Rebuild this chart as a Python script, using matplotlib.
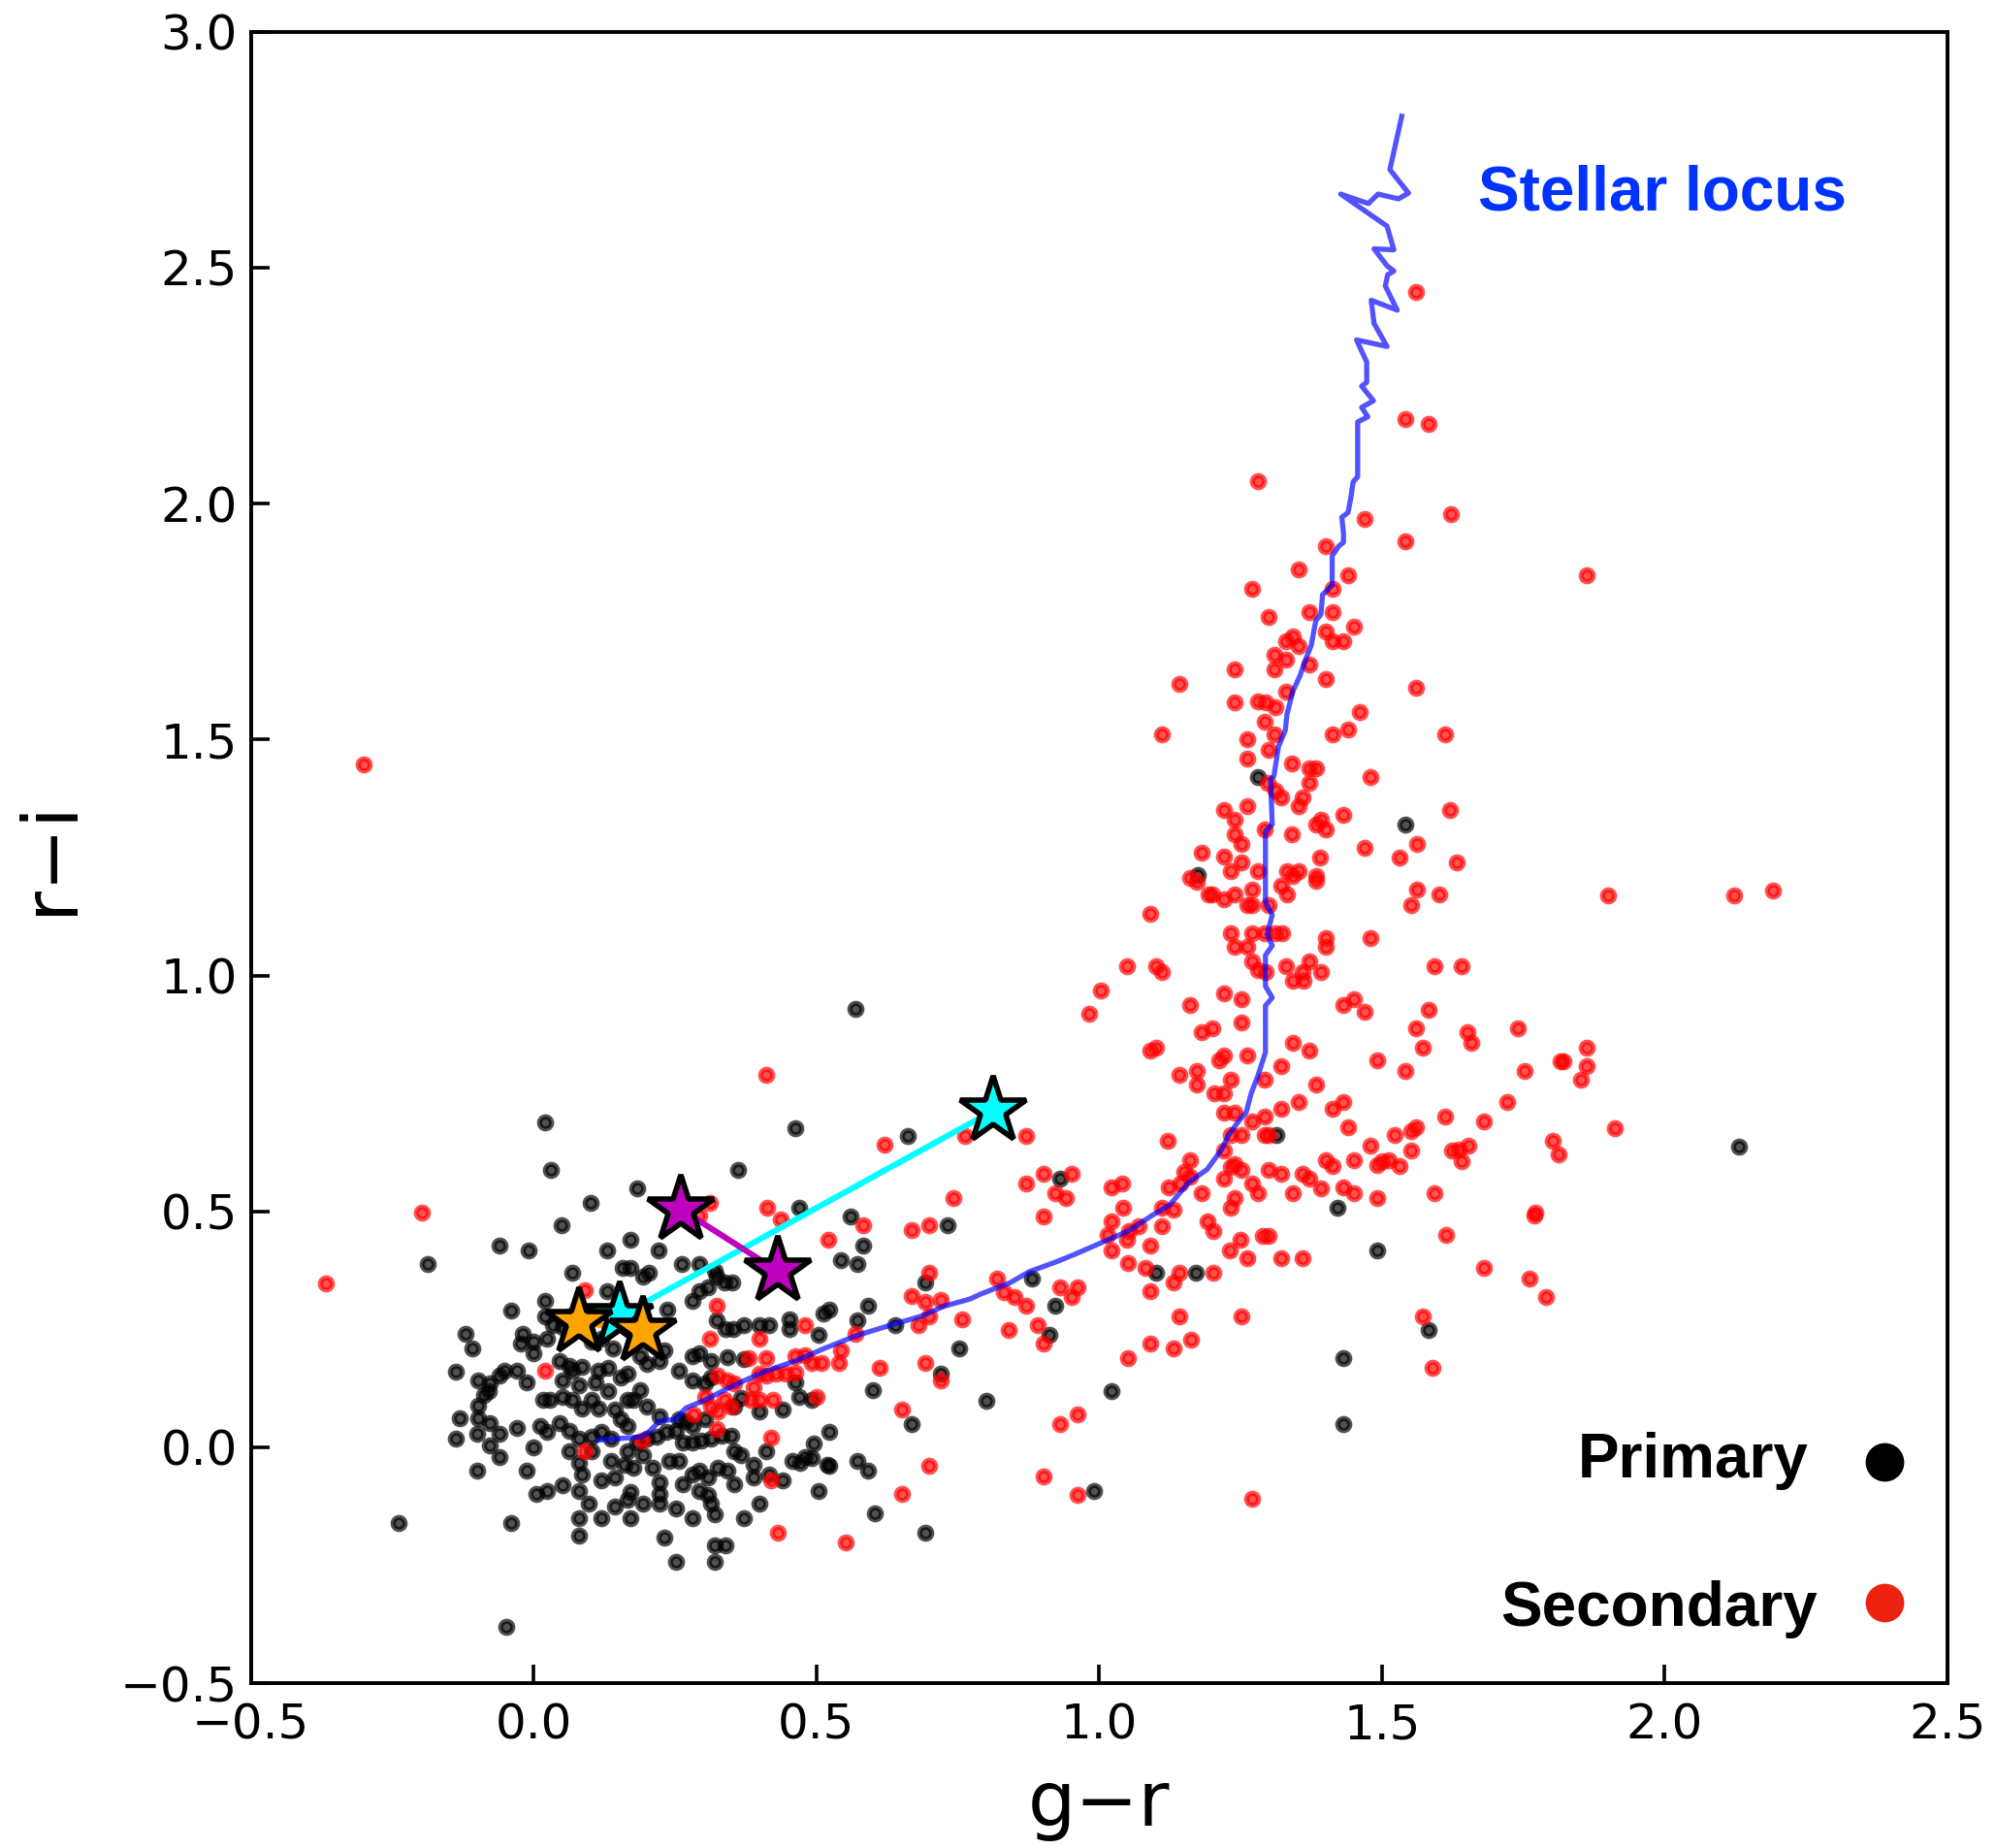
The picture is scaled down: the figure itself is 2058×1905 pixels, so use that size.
import numpy as np
import matplotlib
matplotlib.use("Agg")
import matplotlib.pyplot as plt

# ---------------- data: (g-r, r-i) colours ----------------
# primary components, dense blue clump
primary_core = [
    (0.020,0.688),(0.462,0.677),(0.031,0.587),(0.361,0.588),(0.183,0.549),(0.100,0.518),(0.470,0.508),(0.560,0.489),(0.732,0.470),(0.050,0.470),
    (-0.060,0.427),(-0.009,0.417),(0.130,0.417),(0.171,0.439),(0.221,0.417),(0.582,0.427),(0.262,0.389),(0.292,0.389),(0.543,0.397),(0.572,0.389),
    (0.157,0.381),(0.171,0.381),(0.194,0.361),(0.203,0.370),(0.320,0.374),(0.323,0.361),(0.068,0.369),(0.692,0.349),(0.020,0.311),(-0.040,0.290),
    (0.130,0.331),(0.280,0.311),(0.292,0.330),(0.309,0.340),(0.337,0.350),(0.352,0.350),(0.237,0.292),(0.592,0.300),(0.523,0.292),(0.512,0.284),
    (0.020,0.278),(0.063,0.278),(0.034,0.259),(0.051,0.254),(0.323,0.270),(0.340,0.251),(0.353,0.251),(0.372,0.259),(0.400,0.258),(0.417,0.258),
    (0.452,0.272),(0.452,0.251),(0.503,0.239),(0.572,0.270),(0.640,0.259),(-0.019,0.241),(-0.023,0.220),(0.000,0.224),(0.000,0.200),(0.023,0.230),
    (0.103,0.224),(0.120,0.230),(0.140,0.210),(0.177,0.220),(0.189,0.193),(0.231,0.206),(0.280,0.193),(0.292,0.200),(0.314,0.183),(0.343,0.191),
    (0.372,0.186),(0.752,0.210),(-0.029,0.162),(-0.052,0.162),(-0.060,0.152),(-0.012,0.138),(0.046,0.183),(0.063,0.172),(0.086,0.170),(0.114,0.162),
    (0.131,0.169),(0.051,0.141),(0.068,0.162),(0.080,0.131),(0.109,0.138),(0.131,0.118),(0.154,0.148),(0.166,0.155),(0.200,0.176),(0.223,0.183),
    (0.257,0.162),(0.280,0.141),(0.303,0.135),(0.314,0.148),(0.463,0.138),(0.720,0.155),(0.600,0.121),(-0.078,0.135),(-0.080,0.118),(0.017,0.100),
    (0.028,0.100),(0.051,0.107),(0.068,0.100),(0.086,0.083),(0.103,0.100),(0.114,0.083),(0.143,0.080),(0.166,0.100),(0.177,0.100),(0.189,0.121),
    (0.200,0.087),(0.223,0.066),(0.257,0.059),(0.269,0.056),(0.280,0.045),(0.303,0.059),(0.354,0.087),(0.366,0.104),(0.400,0.076),(0.440,0.080),
    (0.469,0.107),(0.492,0.100),(0.669,0.049),(-0.078,0.052),(-0.060,0.028),(-0.029,0.040),(0.000,-0.001),(0.011,0.045),(0.023,0.032),(0.046,0.052),
    (0.063,0.035),(0.080,0.018),(0.103,0.022),(0.120,0.032),(0.137,0.018),(0.154,0.059),(0.166,0.045),(0.183,0.011),(0.200,0.018),(0.217,0.022),
    (0.234,0.032),(0.251,0.035),(0.263,0.011),(0.280,0.011),(0.297,0.015),(0.314,0.018),(0.332,0.025),(0.349,0.025),(0.354,-0.009),(0.366,-0.016),
    (0.389,-0.037),(0.412,-0.009),(0.440,-0.071),(0.472,-0.033),(0.492,-0.023),(0.523,0.032),(0.495,0.008),(0.520,-0.037),(0.572,-0.030),(0.592,-0.050),
    (-0.078,0.004),(-0.060,-0.020),(-0.012,-0.050),(0.005,-0.098),(0.023,-0.092),(0.051,-0.081),(0.063,-0.009),(0.080,-0.033),(0.086,-0.057),(0.103,-0.009),
    (0.120,-0.071),(0.137,-0.030),(0.143,-0.064),(0.160,-0.037),(0.166,-0.009),(0.177,-0.044),(0.194,-0.016),(0.211,-0.044),(0.223,-0.075),(0.240,-0.030),
    (0.257,-0.030),(0.263,-0.078),(0.280,-0.057),(0.292,-0.050),(0.309,-0.064),(0.326,-0.044),(0.343,-0.050),(0.354,-0.078),(0.389,-0.064),(0.417,-0.057),
    (0.457,-0.030),(0.480,-0.020),(0.080,-0.092),(0.097,-0.119),(0.120,-0.150),(0.143,-0.126),(0.166,-0.112),(0.171,-0.095),(0.194,-0.119),(0.223,-0.119),
    (0.223,-0.098),(0.251,-0.129),(0.280,-0.150),(0.292,-0.092),(0.309,-0.102),(0.314,-0.119),(0.320,-0.143),(0.372,-0.150),(0.400,-0.119),(0.503,-0.092),
    (0.523,-0.040),(0.603,-0.140),(0.692,-0.181),(-0.040,-0.160),(0.080,-0.150),(0.080,-0.188),(0.171,-0.150),(0.231,-0.191),(0.320,-0.208),(0.340,-0.208),
    (0.251,-0.242),(0.320,-0.242),
]
# primary components on the blue edge of the clump
primary_west = [
    (-0.187,0.389),(-0.120,0.241),(-0.109,0.210),(-0.138,0.160),(-0.099,0.141),(-0.088,0.110),(-0.099,0.088),
    (-0.130,0.061),(-0.099,0.061),(-0.138,0.018),(-0.100,0.028),(-0.100,-0.050),(-0.239,-0.161),(-0.048,-0.381),
]
# primary components scattered among the red branch
primary_red = [
    (0.569,0.930),(0.662,0.660),(0.931,0.569),(0.881,0.358),(0.922,0.299),(0.912,0.239),(1.101,0.369),(1.171,0.369),
    (0.801,0.099),(1.021,0.119),(0.991,-0.092),(1.491,0.417),(1.583,0.248),(1.432,0.188),(1.432,0.050),(1.280,1.420),
    (1.542,1.320),(1.174,1.212),(1.313,0.661),(1.421,0.508),(2.131,0.638),
]

# secondary components, upper M-dwarf branch
secondary_upper = [
    (1.401,1.909),(1.542,1.920),(1.352,1.860),(1.440,1.849),(1.862,1.849),(1.270,1.819),(1.413,1.819),(1.300,1.760),(1.372,1.771),(1.413,1.771),
    (1.451,1.739),(1.342,1.719),(1.331,1.709),(1.353,1.698),(1.401,1.729),(1.413,1.709),(1.432,1.709),(1.310,1.679),(1.331,1.670),(1.372,1.659),
    (1.240,1.649),(1.310,1.649),(1.142,1.618),(1.401,1.628),(1.560,1.610),(1.331,1.601),(1.240,1.579),(1.280,1.581),(1.294,1.579),(1.312,1.569),
    (1.461,1.559),(1.292,1.538),(1.111,1.510),(1.310,1.510),(1.413,1.510),(1.440,1.521),(1.612,1.510),(1.262,1.500),(1.300,1.479),(1.262,1.459),
    (1.341,1.449),(1.372,1.440),(1.383,1.440),(1.480,1.420),(1.298,1.409),(1.372,1.409),(1.312,1.391),(1.322,1.378),(1.360,1.378),(1.352,1.358),
    (1.220,1.351),(1.262,1.358),(1.432,1.341),(1.621,1.351),(1.240,1.330),(1.383,1.320),(1.392,1.330),(1.401,1.310),(1.292,1.310),(1.341,1.300),
    (1.240,1.300),(1.252,1.279),(1.562,1.279),(1.470,1.271),(1.182,1.261),(1.220,1.252),(1.252,1.239),(1.391,1.250),(1.531,1.250),(1.632,1.239),
    (1.232,1.221),(1.280,1.221),(1.332,1.221),(1.353,1.221),(1.342,1.211),(1.383,1.211),(1.383,1.200),(1.160,1.207),(1.172,1.198),(1.270,1.181),
    (1.322,1.191),(1.332,1.171),(1.562,1.181),(1.602,1.171),(1.552,1.149),(1.194,1.171),(1.200,1.171),(1.220,1.161),(1.240,1.171),(1.262,1.149),
    (1.270,1.149),(1.300,1.149),(1.091,1.130),(1.232,1.090),(1.270,1.090),(1.292,1.090),(1.312,1.090),(1.323,1.090),(1.401,1.080),(1.401,1.060),
    (1.480,1.080),(1.240,1.060),(1.262,1.060),(1.270,1.029),(1.280,1.012),(1.294,1.008),(1.331,1.019),(1.360,1.008),(1.372,1.029),(1.392,1.008),
    (1.342,0.988),(1.362,0.988),(1.592,1.019),(1.641,1.019),(1.050,1.019),(1.100,1.019),(1.111,1.008),(1.220,0.961),(1.252,0.950),(1.160,0.938),
    (1.432,0.938),(1.451,0.950),(1.470,0.923),(1.582,0.928),
    (1.561,2.449),(1.541,2.179),(1.582,2.168),(1.281,2.048),(1.470,1.968),(1.622,1.978),
    (1.900,1.169),(2.122,1.169),(2.191,1.180),
]
# secondary components around the knee of the locus
secondary_knee = [
    (1.252,0.900),(1.182,0.879),(1.200,0.888),(1.091,0.840),(1.100,0.847),(1.220,0.830),(1.212,0.820),(1.262,0.830),(1.342,0.857),(1.372,0.840),
    (1.560,0.888),(1.572,0.847),(1.651,0.879),(1.658,0.857),(1.741,0.888),(1.862,0.847),(1.492,0.820),(1.542,0.798),(1.322,0.808),(1.752,0.798),
    (1.815,0.818),(1.821,0.818),(1.862,0.808),(1.851,0.779),(1.142,0.789),(1.172,0.798),(1.172,0.768),(1.232,0.779),(1.292,0.779),(1.383,0.768),
    (1.203,0.750),(1.220,0.750),(1.220,0.710),(1.240,0.710),(1.270,0.690),(1.292,0.700),(1.322,0.718),(1.353,0.731),(1.413,0.718),(1.432,0.731),
    (1.722,0.731),(1.612,0.700),(1.681,0.690),(1.440,0.678),(1.551,0.671),(1.560,0.678),(1.122,0.650),(1.232,0.661),(1.252,0.661),(1.292,0.661),
    (1.300,0.661),(1.523,0.661),(1.480,0.640),(1.552,0.628),(1.623,0.628),(1.635,0.631),(1.652,0.640),(1.641,0.607),(1.802,0.650),(1.813,0.620),
    (1.160,0.609),(1.220,0.628),(1.401,0.609),(1.413,0.597),(1.451,0.609),(1.492,0.599),(1.500,0.607),(1.512,0.609),(1.531,0.597),(1.232,0.594),
    (1.240,0.600),(1.252,0.587),(1.300,0.587),(1.322,0.580),(1.360,0.580),(1.372,0.570),(1.151,0.583),(1.160,0.573),(1.123,0.551),(1.143,0.559),
    (1.220,0.570),(1.270,0.559),(1.280,0.539),(1.040,0.559),(1.182,0.539),(1.342,0.539),(1.392,0.549),(1.432,0.551),(1.451,0.539),(1.592,0.539),
    (1.492,0.529),(1.240,0.529),(1.232,0.508),(1.043,0.508),(1.111,0.508),(1.131,0.503),(1.772,0.498),(1.912,0.677),
    (1.002,0.969),(0.982,0.919),
]
# secondary components below the knee
secondary_lower = [
    (0.870,0.660),(0.901,0.580),(0.952,0.580),(0.870,0.560),(0.922,0.538),(0.941,0.528),(0.901,0.489),(1.021,0.550),(1.021,0.479),(1.014,0.450),
    (1.053,0.459),(1.070,0.469),(1.111,0.469),(1.050,0.439),(1.091,0.428),(1.021,0.418),(1.051,0.390),(1.082,0.380),(1.091,0.330),(1.142,0.369),
    (1.131,0.349),(1.201,0.369),(1.191,0.479),(1.201,0.458),(1.231,0.418),(1.250,0.439),(1.262,0.400),(1.290,0.449),(1.299,0.449),(1.322,0.400),
    (1.360,0.400),(1.680,0.380),(1.761,0.358),(1.790,0.319),(1.770,0.491),(1.613,0.450),(1.142,0.278),(1.252,0.278),(1.572,0.278),(1.590,0.168),
    (0.840,0.248),(0.891,0.258),(0.901,0.219),(0.820,0.358),(0.832,0.329),(0.850,0.319),(0.871,0.299),(0.931,0.339),(0.962,0.339),(0.952,0.319),
    (1.091,0.219),(1.131,0.209),(1.162,0.229),(1.051,0.188),(0.962,0.070),(0.931,0.050),(0.901,-0.062),(0.962,-0.100),(1.270,-0.110),
    (0.620,0.642),(0.762,0.659),(0.742,0.529),(0.412,0.789),
]
# secondary components overlapping the blue clump
secondary_blue = [
    (0.413,0.508),(0.437,0.483),(0.312,0.518),(0.292,0.491),(0.582,0.470),(0.669,0.460),(0.700,0.470),(0.521,0.439),(0.700,0.370),(0.091,0.332),
    (0.323,0.299),(0.669,0.321),(0.692,0.309),(0.720,0.313),(0.700,0.278),(0.680,0.258),(0.758,0.272),(0.480,0.258),(0.312,0.230),(0.400,0.230),
    (0.569,0.241),(0.020,0.162),(0.380,0.189),(0.412,0.189),(0.463,0.193),(0.480,0.196),(0.543,0.206),(0.492,0.179),(0.509,0.179),(0.540,0.179),
    (0.326,0.152),(0.343,0.141),(0.354,0.135),(0.400,0.155),(0.412,0.152),(0.429,0.155),(0.446,0.155),(0.463,0.159),(0.389,0.128),(0.612,0.169),
    (0.692,0.179),(0.720,0.141),(0.303,0.107),(0.314,0.087),(0.337,0.100),(0.349,0.087),(0.326,0.076),(0.383,0.100),(0.400,0.100),(0.423,0.100),
    (0.283,0.070),(0.500,0.107),(0.652,0.080),(0.323,0.039),(0.420,0.020),(0.191,0.015),(0.091,-0.009),(0.420,-0.071),(0.700,-0.040),(0.652,-0.098),
    (0.432,-0.181),(0.552,-0.201),
    (-0.300,1.448),(-0.198,0.498),(-0.368,0.348),
]

# empirical stellar locus
locus_gr = [0.114,0.189,0.200,0.223,0.251,0.269,0.303,0.337,0.372,0.412,0.463,0.515,0.572,0.629,0.686,0.726,0.771,0.791,0.817,0.843,
            0.876,0.922,0.955,1.001,1.053,1.093,1.125,1.158,1.191,1.217,1.229,1.246,1.260,1.269,1.280,1.294,1.294,1.306,1.294,1.294,
            1.306,1.297,1.306,1.294,1.294,1.306,1.303,1.309,1.317,1.329,1.332,1.342,1.355,1.363,1.375,1.383,1.392,1.395,1.412,1.412,
            1.423,1.432,1.432,1.429,1.440,1.445,1.449,1.457,1.457,1.475,1.464,1.485,1.464,1.473,1.473,1.455,1.509,1.486,1.481,1.527,
            1.506,1.510,1.521,1.509,1.486,1.521,1.509,1.427,1.476,1.493,1.529,1.547,1.514,1.535]
locus_ri = [0.015,0.022,0.028,0.056,0.059,0.083,0.100,0.121,0.141,0.162,0.183,0.210,0.237,0.258,0.278,0.299,0.314,0.325,0.337,0.349,
            0.372,0.392,0.408,0.432,0.459,0.491,0.514,0.561,0.589,0.632,0.662,0.690,0.710,0.751,0.785,0.837,0.936,0.953,0.977,1.043,
            1.063,1.087,1.128,1.156,1.306,1.320,1.416,1.423,1.485,1.519,1.553,1.601,1.635,1.663,1.700,1.752,1.765,1.807,1.827,1.889,
            1.909,1.918,1.937,1.971,1.981,2.012,2.046,2.057,2.173,2.184,2.204,2.218,2.249,2.257,2.300,2.347,2.333,2.382,2.431,2.410,
            2.461,2.485,2.493,2.504,2.540,2.538,2.588,2.656,2.636,2.656,2.646,2.658,2.708,2.821]

# highlighted systems: (g-r, r-i) of the two components
pair_cyan = ([0.153, 0.812], [0.278, 0.713])
pair_magenta = ([0.261, 0.431], [0.504, 0.374])
pair_orange = ([0.080, 0.194], [0.265, 0.247])

# ---------------- figure ----------------
fig = plt.figure(figsize=(10.29, 9.525), dpi=200)
ax = fig.add_axes([0.1257, 0.0892, 0.8500, 0.8936])

prim = np.array(primary_core + primary_west + primary_red)
sec = np.array(secondary_upper + secondary_knee + secondary_lower + secondary_blue)

dot = dict(s=20, linewidths=1.9, alpha=0.68)
ax.scatter(prim[:, 0], prim[:, 1], c="black", edgecolors="black", zorder=2, **dot)
ax.scatter(sec[:, 0], sec[:, 1], c="red", edgecolors="red", zorder=3, **dot)

ax.plot(locus_gr, locus_ri, color="blue", alpha=0.68, lw=1.9, zorder=4)

for (gx, gy), col in ((pair_cyan, "cyan"), (pair_magenta, "m"), (pair_orange, "orange")):
    ax.plot(gx, gy, "-", color=col, lw=2.2, zorder=5)
    ax.plot(gx, gy, "*", color=col, ms=26, mec="black", mew=2.0, zorder=6)

ax.set_xlim(-0.5, 2.5)
ax.set_ylim(-0.5, 3.0)
ax.set_xticks(np.arange(-0.5, 2.51, 0.5))
ax.set_yticks(np.arange(-0.5, 3.01, 0.5))
ax.tick_params(direction="in", length=7, width=1.3, labelsize=18, top=False, right=False)
ax.tick_params(axis="x", pad=7)
ax.tick_params(axis="y", pad=5)
for sp in ax.spines.values():
    sp.set_linewidth(1.4)

ax.set_xlabel("g\u2212r", fontsize=28, labelpad=7)
ax.set_ylabel("r\u2212i", fontsize=28, labelpad=12)

bold = dict(family="Liberation Sans", weight="bold", fontsize=23)
ax.text(0.7233, 0.8918, "Stellar locus", color="#0033ff", transform=ax.transAxes,
        ha="left", va="baseline", **bold)
ax.text(0.9182, 0.1244, "Primary", color="black", transform=ax.transAxes,
        ha="right", va="baseline", **bold)
ax.text(0.9232, 0.0347, "Secondary", color="black", transform=ax.transAxes,
        ha="right", va="baseline", **bold)
ax.scatter([0.9631], [0.1341], s=205, c="black", transform=ax.transAxes,
           clip_on=False, zorder=7, linewidths=0)
ax.scatter([0.9631], [0.0489], s=205, c="#ee2211", transform=ax.transAxes,
           clip_on=False, zorder=7, linewidths=0)

fig.savefig("out.png", dpi=200)
